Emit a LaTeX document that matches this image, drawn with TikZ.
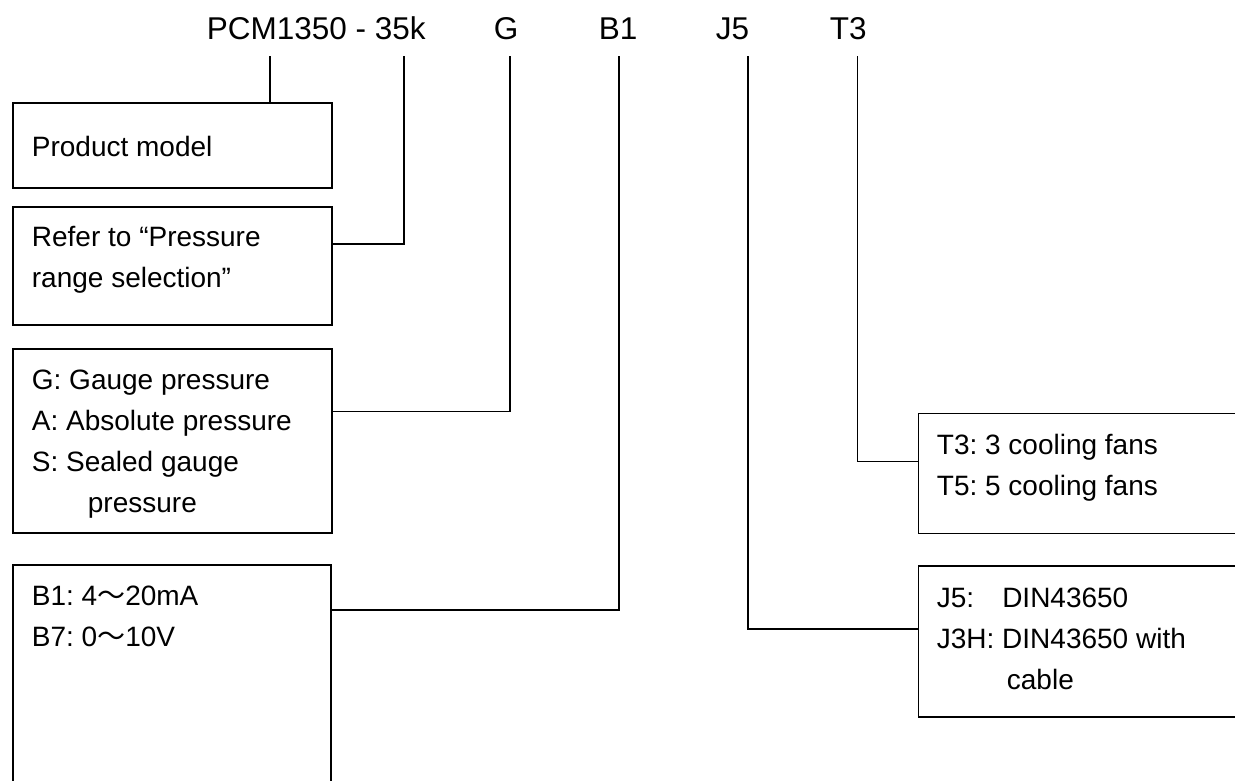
\documentclass[tikz,border=0pt]{standalone}
\usepackage{fontspec}
\setmainfont{Liberation Sans}
\newfontfamily\cjk{Noto Sans CJK SC}
\usepackage{tikz}
\usetikzlibrary{positioning}
\frenchspacing

\begin{document}
\begin{tikzpicture}[x=1pt,y=-1pt,line width=1.8pt,
	partbox/.style={draw,anchor=north west,inner sep=0pt},
	parttext/.style={anchor=north west,inner sep=0pt,align=left,font=\fontsize{28}{41}\selectfont},
	codelabel/.style={anchor=base west,inner sep=0pt,font=\fontsize{31.5}{38}\selectfont}]
	\useasboundingbox (0,0) rectangle (1235,780);
	% order code
	\node[codelabel] (lmodel) at (206,39) {PCM1350 - 35k};
	\node[codelabel] (lkind) at (493,39) {G};
	\node[codelabel] (loutput) at (598,39) {B1};
	\node[codelabel] (lplug) at (715,39) {J5};
	\node[codelabel] (lfans) at (829,39) {T3};
	\coordinate (tmodel) at (270,56);
	\coordinate (trange) at (404,56);
	\coordinate (tkind) at (510,56);
	\coordinate (toutput) at (619,56);
	\coordinate (tplug) at (748,56);
	\coordinate (tfans) at (857.5,56);
	% boxes
	\node[partbox,minimum width=319pt,minimum height=85pt] (model) at (12,102) {};
	\node[partbox,minimum width=319pt,minimum height=118pt] (range) at (12,206) {};
	\node[partbox,minimum width=319pt,minimum height=184pt] (kind) at (12,348) {};
	\node[partbox,minimum width=318pt,minimum height=240pt] (output) at (12,564) {};
	\node[partbox,minimum width=340pt,minimum height=120pt] (fans) at (917.5,412.5) {};
	\node[partbox,minimum width=340pt,minimum height=151pt] (plug) at (917.5,565) {};
	% texts (\strut fixes the first line's top)
	\node[parttext] (tmodeltext) at (31,127.3) {\strut Product model};
	\node[parttext] (trangetext) at (31,217.3) {\strut Refer to “Pressure\\range selection”};
	\node[parttext] (tkindtext) at (31,360.3) {\strut G: Gauge pressure\\A: Absolute pressure\\S: Sealed gauge\\\hspace*{56pt}pressure};
	\node[parttext] (toutputtext) at (31,576.3) {\strut B1: 4{\cjk ～}20mA\\B7: 0{\cjk ～}10V};
	\node[parttext] (tfanstext) at (936,425.3) {\strut T3: 3 cooling fans\\T5: 5 cooling fans};
	\node[parttext] (tplugtext) at (936,578.3) {\strut J5:\hspace*{28pt}DIN43650\\J3H: DIN43650 with\\\hspace*{70pt}cable};
	% connectors
	\draw (tmodel) -- (tmodel |- model.north);
	\draw (trange) |- ([yshift=-38pt]range.north east);
	\draw (tkind) |- ([yshift=-63.5pt]kind.north east);
	\draw (toutput) |- ([yshift=-46pt]output.north east);
	\draw (tfans) |- ([yshift=-49pt]fans.north west);
	\draw (tplug) |- ([yshift=-64pt]plug.north west);
\end{tikzpicture}
\end{document}
